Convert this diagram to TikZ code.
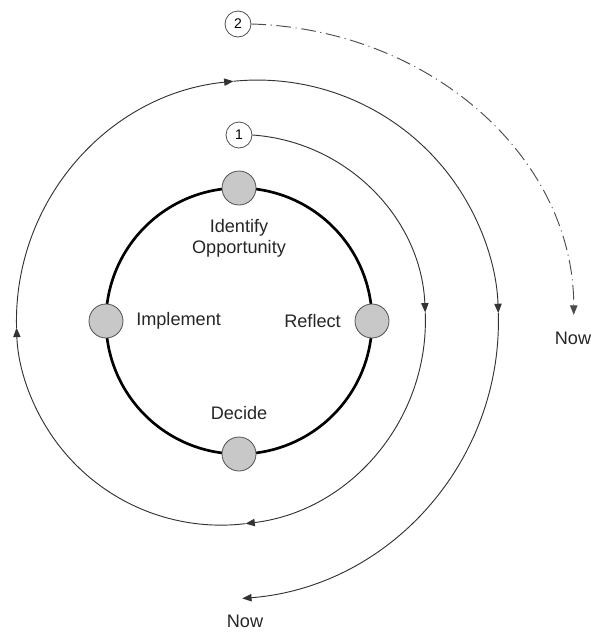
\documentclass[tikz,border=0pt]{standalone}
\usepackage{fontspec}
\setmainfont{Liberation Sans}
\usepackage{tikz}
\usetikzlibrary{arrows.meta}
\definecolor{stagegray}{RGB}{200,200,200}
\definecolor{rimgray}{RGB}{80,80,80}

\begin{document}
\begin{tikzpicture}[
    x=0.75pt, y=0.75pt,
    ring/.style={line width=2pt, black},
    stage/.style={circle, draw=rimgray, fill=stagegray, line width=0.6pt, minimum size=25.5pt, inner sep=0pt},
    stagetext/.style={inner sep=0pt, font=\fontsize{13.6}{15.75}\selectfont, text=black!85},
    marker/.style={circle, draw=rimgray, fill=white, line width=0.6pt, minimum size=19.5pt, inner sep=0pt, font=\fontsize{10.5}{10.5}\selectfont},
    flow/.style={-{Triangle[length=7pt, width=5.5pt]}, line width=0.7pt, black!80},
    future/.style={-{Triangle[length=7pt, width=5.5pt]}, line width=0.7pt, black!70, dash pattern=on 11pt off 3.5pt on 0.8pt off 3.5pt}
]
    \useasboundingbox (0,0) rectangle (590,-632);

    % Cycle
    \draw[ring] (239,-321) circle[radius=133];

    % Stages
    \node[stage] (identify) at (239,-188) {};
    \node[stage] (reflect) at (372,-321) {};
    \node[stage] (decide) at (239,-454) {};
    \node[stage] (implement) at (106,-321) {};

    \node[stagetext, align=center] (identifytext) at (239,-238) {Identify\\Opportunity};
    \node[stagetext, anchor=east] (reflecttext) at (341,-321) {Reflect};
    \node[stagetext] (decidetext) at (239,-413) {Decide};
    \node[stagetext, anchor=west] (implementtext) at (136,-321) {Implement};

    % Start markers
    \node[marker] (one) at (239,-135) {1};
    \node[marker] (two) at (238,-24) {2};

    % End labels
    \node[stagetext] (nowbottom) at (245,-621) {Now};
    \node[stagetext] (nowright) at (573,-338) {Now};

    % Spiral 1
    \draw[flow] (one.east) arc[start angle=86, end angle=2.5, radius=186] coordinate (s1);
    \draw[flow] (s1) arc[start angle=2.3, end angle=-83.1, radius=204.5] coordinate (s2);
    \draw[flow] (s2) arc[start angle=-83.1, end angle=-178, radius=204.5] coordinate (s3);
    \draw[flow] (s3) arc[start angle=181.6, end angle=95.7, radius=241] coordinate (s4);
    \draw[flow] (s4) arc[start angle=95.7, end angle=1.9, radius=241] coordinate (s5);
    \draw[flow] (s5) arc[start angle=1.7, end angle=-85.5, radius=278] coordinate (s6);

    % Path 2
    \draw[future] (two.east) arc[start angle=88, end angle=0, x radius=334, y radius=291] coordinate (d1);
\end{tikzpicture}
\end{document}
